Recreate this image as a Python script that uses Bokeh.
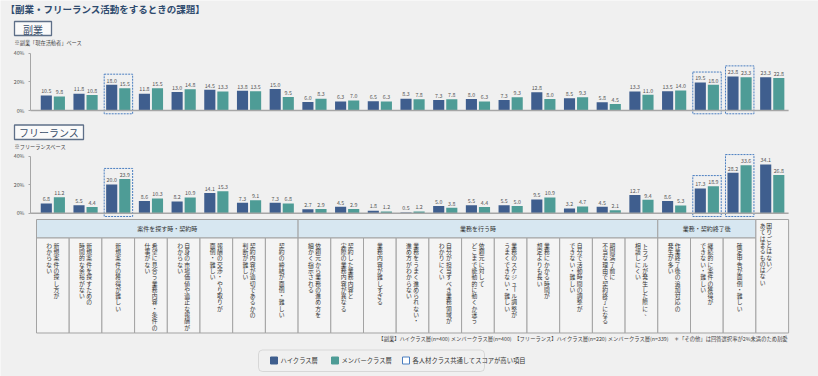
import math
from bokeh.plotting import figure
from bokeh.models import (Range1d, LinearAxis, FixedTicker, PrintfTickFormatter,
                          ColumnDataSource, BoxAnnotation)
from bokeh.core.properties import value
from bokeh.embed import file_html
from bokeh.resources import INLINE

# ---------------- data ----------------
categories = [
    ["新規案件の探し方が", "わからない"],
    ["新規案件を探すための", "時間的な余裕がない"],
    ["新規案件の獲得が難しい"],
    ["希望に見合う業務内容・条件の", "仕事がない"],
    ["自身の市場価値や適正な報酬が", "わからない"],
    ["報酬の交渉・やり取りが", "面倒・難しい"],
    ["契約内容が適切であるかの", "判断が難しい"],
    ["契約の締結が面倒・難しい"],
    ["依頼元から業務の進め方を", "細かく指示される"],
    ["契約した業務内容と", "実際の業務内容が異なる"],
    ["業務内容が難しすぎる"],
    ["業務をうまく進められない・", "進め方がわからない"],
    ["自分が担当すべき業務領域が", "わかりにくい"],
    ["依頼元に対して", "どこまで能動的に動くか迷う"],
    ["業務のスケジュール調整が", "うまくできない・難しい"],
    ["業務にかかる時間が", "想定よりも長い"],
    ["自分で活動時間の調整が", "できない・難しい"],
    ["期間満了前に", "不当な理由で契約終了になる"],
    ["トラブルが発生した際に、", "相談しにくい"],
    ["作業終了後の追加対応の", "発生が多い"],
    ["継続的に案件の獲得が", "できない・難しい"],
    ["確定申告が面倒・難しい"],
    ["困りごとはない／", "あてはまるものはない"],
]
groups = [("案件を探す時・契約時", 0, 8), ("業務を行う時", 8, 19), ("業務・契約終了後", 19, 22)]

fukugyo_high = [10.5, 11.8, 18.0, 11.8, 13.0, 14.5, 13.8, 15.0, 6.0, 6.3, 6.5, 8.3,
                7.3, 8.0, 7.3, 12.8, 8.5, 5.8, 13.3, 13.5, 19.5, 23.8, 23.3]
fukugyo_member = [9.8, 10.8, 15.5, 15.5, 14.8, 13.3, 13.5, 9.5, 8.3, 7.0, 6.3, 7.8,
                  7.8, 6.3, 9.3, 8.0, 9.3, 4.5, 11.0, 14.0, 18.0, 23.3, 22.8]
free_high = [6.8, 5.5, 20.0, 8.6, 8.2, 14.1, 7.3, 7.3, 2.7, 4.5, 1.8, 0.5,
             5.0, 5.5, 5.5, 9.5, 3.2, 4.5, 12.7, 8.6, 17.3, 28.2, 34.1]
free_member = [11.2, 4.4, 23.9, 10.3, 10.9, 15.3, 9.1, 6.8, 2.9, 2.9, 1.2, 1.2,
               3.8, 4.4, 5.0, 10.9, 4.7, 2.1, 9.4, 5.3, 18.9, 33.6, 26.8]
highlighted = [2, 20, 21]
y_ticks = [0, 20, 40]

title_text = "【副業・フリーランス活動をするときの課題】"
sec1_label = "副業"
sec1_note = "※副業「現在活動者」ベース"
sec2_label = "フリーランス"
sec2_note = "※フリーランスベース"
footnote = ("【副業】ハイクラス層(n=400) メンバークラス層(n=400)　【フリーランス】ハイクラス層(n=220) "
            "メンバークラス層(n=339)　＊「その他」は回答選択率が2%未満のため割愛")
legend_labels = ["ハイクラス層", "メンバークラス層", "各人材クラス共通してスコアが高い項目"]

# ---------------- style ----------------
W, H = 818, 376
X0, CW = 36.0, 32.7          # left edge of the category band, pixels per category
PXU = 1.43                   # pixels per percentage point
TOP_ZERO, BOT_ZERO = 110.0, 212.7
BG = "#F0F0F0"
BLUE = "#3F5E8E"
TEAL = "#4E9C96"
HL = "#4A7EC0"
GRID = "#A6A6A6"
FONT = value("Noto Sans CJK JP")


def px(xp):
    return (xp - X0) / CW


n = len(categories)
p = figure(width=W, height=H, output_backend="svg", toolbar_location=None,
           x_range=Range1d(px(0), px(W)), y_range=Range1d(H, 0),
           x_axis_location=None, y_axis_location=None,
           background_fill_color=BG, border_fill_color=BG, min_border=0)
p.min_border_left = p.min_border_right = p.min_border_top = p.min_border_bottom = 0
p.outline_line_color = None
p.grid.visible = False
p.extra_y_ranges = {
    "top": Range1d((TOP_ZERO - H) / PXU, TOP_ZERO / PXU),
    "bot": Range1d((BOT_ZERO - H) / PXU, BOT_ZERO / PXU),
}

# ---------------- headings ----------------
p.text(x=[px(5)], y=[8], text=[title_text], text_font=FONT, text_font_size="9.5px",
       text_font_style="bold", text_color="#2F4B6E", text_baseline="middle")
for label, (l, r, t, b), note, ny in [(sec1_label, (14, 51, 21, 35), sec1_note, 41.5),
                                      (sec2_label, (14, 83, 124.5, 139), sec2_note, 146)]:
    p.quad(left=[px(l)], right=[px(r)], top=[t], bottom=[b], fill_color="#FAFAFA",
           line_color="#5E6F88", line_width=1.3)
    p.text(x=[px((l + r) / 2)], y=[(t + b) / 2 + 0.5], text=[label], text_font=FONT,
           text_font_size="10px", text_color="#3B4F6B", text_align="center",
           text_baseline="middle")
    p.text(x=[px(14)], y=[ny], text=[note], text_font=FONT, text_font_size="5.2px",
           text_color="#444444", text_baseline="middle")

# ---------------- bar charts ----------------
BW = 0.34
DODGE = 0.2
for rname, high, member in [("top", fukugyo_high, fukugyo_member),
                            ("bot", free_high, free_member)]:
    xs = [i + 0.5 for i in range(n)]
    src = ColumnDataSource(dict(
        xh=[x - DODGE for x in xs], xm=[x + DODGE for x in xs],
        h=high, m=member,
        hl=[f"{v:.1f}" for v in high], ml=[f"{v:.1f}" for v in member],
        hy=[v + 2.2 / PXU for v in high], my=[v + 2.2 / PXU for v in member],
    ))
    # highlight boxes
    hsrc = ColumnDataSource(dict(
        left=[i + 0.07 for i in highlighted], right=[i + 0.94 for i in highlighted],
        top=[max(high[i], member[i]) + 7.4 for i in highlighted],
        bottom=[-2.3 for _ in highlighted]))
    p.quad(left="left", right="right", top="top", bottom="bottom", source=hsrc,
           y_range_name=rname, fill_color=None, line_color=HL, line_width=1,
           line_dash="2 1")
    p.vbar(x="xh", top="h", bottom=0, width=BW, source=src, y_range_name=rname,
           fill_color=BLUE, line_color=None)
    p.vbar(x="xm", top="m", bottom=0, width=BW, source=src, y_range_name=rname,
           fill_color=TEAL, line_color=None)
    p.text(x="xh", y="hy", text="hl", source=src, y_range_name=rname, text_font=FONT,
           text_font_size="5.3px", text_color="#555555", text_align="center",
           text_baseline="bottom")
    p.text(x="xm", y="my", text="ml", source=src, y_range_name=rname, text_font=FONT,
           text_font_size="5.3px", text_color="#555555", text_align="center",
           text_baseline="bottom")
    # baseline
    p.segment(x0=[px(30)], x1=[n], y0=[0], y1=[0], y_range_name=rname,
              line_color=GRID, line_width=1.5)
    # y axis
    ax = LinearAxis(y_range_name=rname, fixed_location=px(30), bounds=(0, 40),
                    ticker=FixedTicker(ticks=y_ticks),
                    formatter=PrintfTickFormatter(format="%d%%"))
    ax.axis_line_color = GRID
    ax.axis_line_width = 1
    ax.major_tick_line_color = GRID
    ax.major_tick_in = 0
    ax.major_tick_out = 2
    ax.minor_tick_line_color = None
    ax.major_label_text_font = "Noto Sans CJK JP"
    ax.major_label_text_font_size = "5.3px"
    ax.major_label_text_color = "#555555"
    ax.major_label_standoff = 4
    p.add_layout(ax, "left")

# ---------------- table ----------------
T_TOP, T_MID, T_BOT = 219.0, 237.5, 332.5
LINE = "#A3A3A3"
gsrc = ColumnDataSource(dict(left=[g[1] for g in groups], right=[g[2] for g in groups],
                             label=[g[0] for g in groups],
                             cx=[(g[1] + g[2]) / 2 for g in groups]))
p.quad(left="left", right="right", top=T_TOP, bottom=T_MID, source=gsrc,
       fill_color="#D7E7F1", line_color=LINE, line_width=1)
p.text(x="cx", y=(T_TOP + T_MID) / 2, text="label", source=gsrc, text_font=FONT,
       text_font_size="6px", text_color="#333333", text_align="center",
       text_baseline="middle")
cell_left = list(range(n))
cell_top = [T_MID] * (n - 1) + [T_TOP]
p.quad(left=cell_left, right=[c + 1 for c in cell_left], top=cell_top,
       bottom=[T_BOT] * n, fill_color="#F4F4F4", line_color=LINE, line_width=1)

# vertical (tategaki) text, one glyph per character
PITCH = 6.3
cx_, cy_, ct_, ca_ = [], [], [], []
for i, lines in enumerate(categories):
    last = (i == n - 1)
    start = (T_TOP + 6.0) if last else (T_MID + 7.2)
    center = i + 0.5
    if last:
        offs = [-3.0, -9.5]
    elif len(lines) == 2:
        offs = [3.6, -3.6]
    else:
        offs = [0.0]
    for line, off in zip(lines, offs):
        for k, ch in enumerate(line):
            dx, dy, ang = 0.0, 0.0, 0.0
            if ch in "ー":
                ang = math.pi / 2
            if ch in "、。":
                dx, dy = 2.2, -2.2
            cx_.append(center + (off + dx) / CW)
            cy_.append(start + k * PITCH + dy)
            ct_.append(ch)
            ca_.append(ang)
vsrc = ColumnDataSource(dict(x=cx_, y=cy_, t=ct_, a=ca_))
p.text(x="x", y="y", text="t", angle="a", source=vsrc, text_font=FONT,
       text_font_size="5.8px", text_color="#333333", text_align="center",
       text_baseline="middle")

# footnote
p.text(x=[n], y=[338.5], text=[footnote], text_font=FONT, text_font_size="5.3px",
       text_color="#444444", text_align="right", text_baseline="middle")

# ---------------- legend ----------------
p.add_layout(BoxAnnotation(left=px(258), right=px(484), top=349.5, bottom=371,
                           fill_color=None, line_color="#A0A0A0", line_width=1,
                           border_radius=4))
leg_x = [270, 331, 402]
leg_fill = [BLUE, TEAL, "#FFFFFF"]
leg_line = [BLUE, TEAL, HL]
for xq, fc, lc, lab in zip(leg_x, leg_fill, leg_line, legend_labels):
    p.quad(left=[px(xq)], right=[px(xq + 7)], top=[356.5], bottom=[363.5],
           fill_color=fc, line_color=lc, line_width=1)
    p.text(x=[px(xq + 10)], y=[360.2], text=[lab], text_font=FONT,
           text_font_size="6.3px", text_color="#333333", text_baseline="middle")

open("out.html", "w").write(file_html(p, INLINE))
